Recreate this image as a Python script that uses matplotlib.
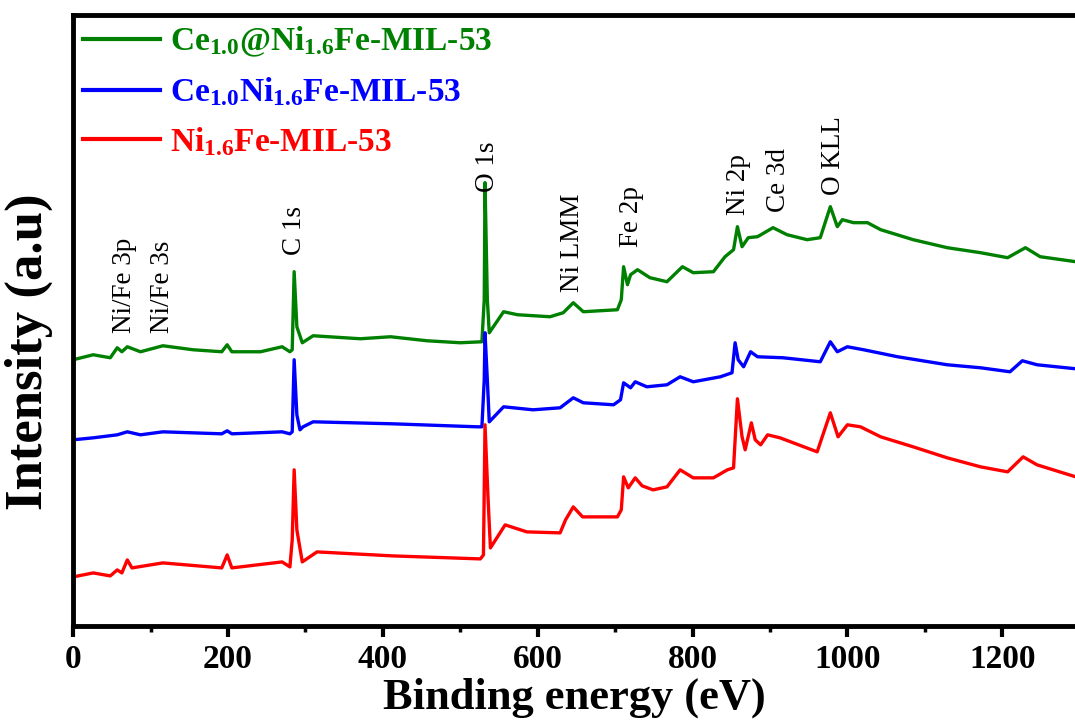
import matplotlib.pyplot as plt
from matplotlib.ticker import MultipleLocator

plt.rcParams['font.family'] = 'Liberation Serif'
plt.rcParams['font.weight'] = 'bold'
plt.rcParams['axes.labelweight'] = 'bold'
plt.rcParams['mathtext.fontset'] = 'custom'
plt.rcParams['mathtext.rm'] = 'Liberation Serif:bold'
plt.rcParams['mathtext.it'] = 'Liberation Serif:bold'
plt.rcParams['mathtext.bf'] = 'Liberation Serif:bold'

# survey spectra, binding energy (eV) vs intensity (a.u., stacked)
nife_be = [0, 26, 48, 57, 63, 70, 76, 116, 192, 199, 205, 270, 280, 283, 285.5, 289, 296,
           315, 413, 526, 530, 532, 536, 539, 558, 586, 629, 636, 646, 658, 703, 708,
           711, 717, 726, 735, 749, 767, 784, 801, 827, 845, 853, 858, 864, 868, 876,
           881, 888, 897, 913, 961, 978, 988, 1000, 1017, 1043, 1085, 1129, 1172, 1207,
           1227, 1245, 1295]
nife_int = [50, 54, 51, 57, 54, 67, 59, 64, 59, 72, 59, 65, 60, 87, 157, 97, 65,
            75, 71, 68, 72, 202, 127, 79, 102, 95, 94, 107, 120, 110, 110, 117,
            150, 139, 149, 141, 137, 140, 157, 149, 149, 157, 159, 228, 190, 177, 204,
            187, 182, 192, 189, 175, 214, 190, 202, 200, 190, 180, 169, 160, 155,
            170, 162, 150]

ce_nife_be = [0, 26, 57, 70, 87, 116, 192, 199, 205, 270, 280, 283, 285.5, 289, 293,
              297, 310, 413, 522, 528, 531, 532, 535, 537.5, 556, 594, 629, 646, 659,
              698, 707, 711, 720, 726, 741, 767, 784, 801, 836, 851, 855, 859, 866,
              875, 884, 917, 965, 978, 987, 1000, 1021, 1065, 1129, 1172, 1210, 1226,
              1245, 1295]
ce_nife_int = [187, 189, 192, 195, 192, 195, 193, 196, 193, 195, 193, 195, 267, 212, 197,
               200, 205, 203, 200, 200, 247, 294, 247, 205, 220, 217, 219, 229, 224,
               222, 227, 244, 239, 245, 240, 242, 250, 245, 250, 254, 284, 267, 260,
               275, 270, 269, 265, 285, 275, 280, 277, 270, 262, 259, 255, 266,
               262, 258]

ce_at_nife_be = [0, 26, 48, 57, 63, 70, 87, 116, 155, 192, 199, 205, 242, 270, 280, 283,
                 285.5, 289, 296, 310, 371, 410, 457, 500, 528, 531, 532, 535, 537.5,
                 556, 574, 616, 633, 646, 659, 703, 708, 711, 716, 720, 729, 745, 767,
                 787, 801, 827, 842, 853, 858, 864, 872, 884, 904, 922, 948, 965, 978,
                 987, 993.5, 1008, 1026, 1043, 1085, 1129, 1172, 1207, 1230, 1249, 1295]
ce_at_nife_int = [267, 272, 269, 279, 275, 280, 275, 281, 277, 275, 282, 275, 275, 280, 275, 277,
                  355, 300, 284, 291, 288, 290, 286, 284, 285, 327, 444, 327, 294,
                  315, 312, 310, 314, 324, 315, 317, 327, 360, 342, 352, 357, 349, 345,
                  360, 354, 355, 370, 377, 400, 380, 389, 390, 399, 392, 387, 389, 420,
                  400, 407, 404, 404, 397, 387, 379, 374, 369, 379, 370, 365]

peak_names = ['Ni/Fe 3p', 'Ni/Fe 3s', 'C 1s', 'O 1s', 'Ni LMM', 'Fe 2p', 'Ni 2p', 'Ce 3d', 'O KLL']
peak_be = [66, 115, 285.5, 535, 645, 721, 859, 911, 982]
peak_label_y = [294, 294, 372, 435, 335, 380, 412, 415, 432]

fig = plt.figure(figsize=(10.75, 7.27), dpi=100)
ax = fig.add_axes([0.068, 0.139, 0.932, 0.841])

ax.plot(ce_at_nife_be, ce_at_nife_int, color='#008000', lw=2.4,
        label=r'Ce$_{1.0}$@Ni$_{1.6}$Fe-MIL-53')
ax.plot(ce_nife_be, ce_nife_int, color='#0000ff', lw=2.4,
        label=r'Ce$_{1.0}$Ni$_{1.6}$Fe-MIL-53')
ax.plot(nife_be, nife_int, color='#ff0000', lw=2.4,
        label=r'Ni$_{1.6}$Fe-MIL-53')

for name, be, y in zip(peak_names, peak_be, peak_label_y):
    ax.text(be, y, name, rotation=90, ha='center', va='bottom',
            fontsize=19.5, fontweight='normal')

ax.set_xlim(0, 1294)
ax.set_ylim(1, 612)
ax.set_yticks([])
ax.xaxis.set_major_locator(MultipleLocator(200))
ax.xaxis.set_minor_locator(MultipleLocator(100))
ax.tick_params(axis='x', which='major', direction='out', length=8, width=3,
               labelsize=24, pad=5)
ax.tick_params(axis='x', which='minor', direction='out', length=4, width=2.5)
for side in ['left', 'bottom', 'top']:
    ax.spines[side].set_linewidth(3.5)
ax.spines['right'].set_visible(False)

ax.set_xlabel('Binding energy (eV)', fontsize=32, fontweight='bold', labelpad=2)
ax.set_ylabel('Intensity (a.u)', fontsize=38, fontweight='bold')
ax.yaxis.set_label_coords(-0.02, 0.448)

leg = ax.legend(loc='upper left', bbox_to_anchor=(0, 1), borderaxespad=0.2,
                frameon=False, fontsize=24, handlelength=2.3, handletextpad=0.3,
                labelspacing=0.5, labelcolor='linecolor', borderpad=0.1)
for line in leg.get_lines():
    line.set_linewidth(3)

fig.savefig('out.png', dpi=100)
